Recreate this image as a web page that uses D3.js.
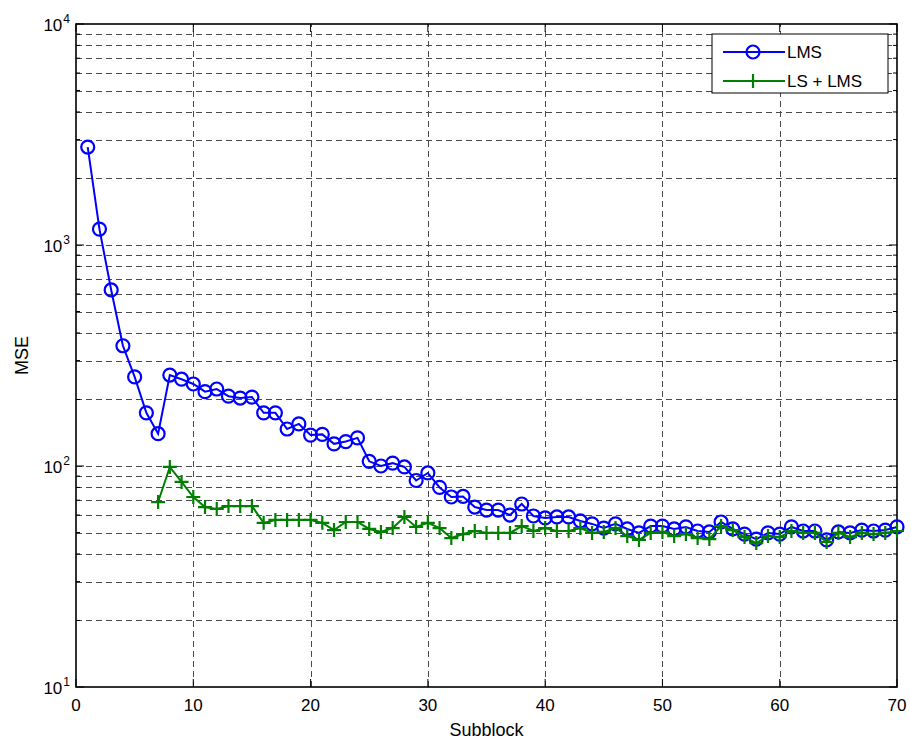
<!DOCTYPE html>
<html>
<head>
<meta charset="utf-8">
<script src="https://cdn.jsdelivr.net/npm/d3@7"></script>
<style>
  body { margin: 0; background: #fff; }
  svg text { font-family: "Liberation Sans", Arial, Helvetica, sans-serif; }
</style>
</head>
<body>
<svg id="svg" width="911" height="742"></svg>
<script>
const width = 911;
const height = 742;

const paddings = {
	left: 76,
	top: 24,
	right: 14,
	bottom: 55
};

// MSE per subblock, LMS only
const lmsValues = [
	2775, 1180, 626, 350, 253, 174, 140, 258, 247, 235,
	217, 223, 207, 203, 205, 174, 174, 147, 155, 138,
	139, 126, 129, 134, 105, 100, 103, 99, 86, 93,
	80, 72.4, 72.8, 65.2, 63.2, 63.2, 60, 67.3, 59.4, 58.2,
	58.8, 58.8, 56.4, 54.7, 52.4, 54.7, 51.9, 49.8, 53.5, 53.5,
	51.9, 53, 50.8, 50.3, 55.8, 51.9, 49.2, 46.7, 49.8, 49.2,
	53, 50.8, 50.8, 46.3, 50.3, 49.8, 51.3, 50.8, 51.3, 53
];

// MSE per subblock, LS + LMS (starts at subblock 7)
const lsLmsStart = 7;
const lsLmsValues = [
	68.7, 99, 84.7, 72.4, 65.2, 63.9, 65.9, 65.9, 65.9, 55.3,
	57, 57, 57, 57, 55.3, 51.3, 55.8, 55.8, 51.9, 50.3,
	52.4, 58.8, 53, 55.3, 52.4, 47.2, 49.2, 50.8, 49.8, 49.8,
	49.8, 53.5, 50.8, 52.4, 50.8, 50.8, 52.4, 49.8, 50.3, 52.4,
	48.2, 46.3, 49.8, 50.3, 48.2, 49.2, 47.2, 46.7, 53.5, 51.3,
	47.7, 44.8, 48.2, 47.7, 50.8, 49.8, 49.8, 45.3, 49.8, 47.7,
	49.8, 49.2, 49.8, 50.8
];

const xTicks = [0, 10, 20, 30, 40, 50, 60, 70];
const yDecades = [1, 2, 3, 4];
const seriesNames = ['LMS', 'LS + LMS'];
const seriesColors = ['#0000ff', '#007f00'];

const lmsPoints = lmsValues.map((v, i) => [i + 1, v]);
const lsLmsPoints = lsLmsValues.map((v, i) => [i + lsLmsStart, v]);

const svg = d3.select('#svg');

const xScale = d3.scaleLinear()
	.domain([0, 70])
	.range([paddings.left, width - paddings.right]);

const yScale = d3.scaleLog()
	.domain([10, 10000])
	.range([height - paddings.bottom, paddings.top]);

const x0 = xScale.range()[0], x1 = xScale.range()[1];
const y0 = yScale.range()[0], y1 = yScale.range()[1];

// minor + major log positions
const yGrid = [];
yDecades.slice(0, -1).forEach(p => {
	for (let k = 1; k < 10; k++) yGrid.push(k * Math.pow(10, p));
});
yGrid.push(10000);

const grid = svg.append('g')
	.attr('stroke', '#4a4a4a')
	.attr('stroke-width', 1)
	.attr('stroke-dasharray', '6,4');

grid.selectAll(null)
	.data(yGrid.filter(v => v > 10 && v < 10000))
	.enter()
	.append('line')
	.attr('x1', x0).attr('x2', x1)
	.attr('y1', d => Math.round(yScale(d)) + 0.5)
	.attr('y2', d => Math.round(yScale(d)) + 0.5);

grid.selectAll(null)
	.data(xTicks.filter(v => v > 0 && v < 70))
	.enter()
	.append('line')
	.attr('y1', y0).attr('y2', y1)
	.attr('x1', d => Math.round(xScale(d)) + 0.5)
	.attr('x2', d => Math.round(xScale(d)) + 0.5);

// axes box
svg.append('rect')
	.attr('x', x0).attr('y', y1)
	.attr('width', x1 - x0).attr('height', y0 - y1)
	.attr('fill', 'none')
	.attr('stroke', '#000')
	.attr('stroke-width', 1.6);

// inward ticks
const ticks = svg.append('g').attr('stroke', '#000').attr('stroke-width', 1);
xTicks.forEach(t => {
	const x = xScale(t);
	ticks.append('line').attr('x1', x).attr('x2', x).attr('y1', y0).attr('y2', y0 - 8);
	ticks.append('line').attr('x1', x).attr('x2', x).attr('y1', y1).attr('y2', y1 + 8);
});
yGrid.forEach(v => {
	const y = yScale(v);
	const len = Math.log10(v) % 1 === 0 ? 8 : 4;
	ticks.append('line').attr('x1', x0).attr('x2', x0 + len).attr('y1', y).attr('y2', y);
	ticks.append('line').attr('x1', x1).attr('x2', x1 - len).attr('y1', y).attr('y2', y);
});

// x tick labels
svg.selectAll(null)
	.data(xTicks)
	.enter()
	.append('text')
	.attr('x', d => xScale(d))
	.attr('y', y0 + 24)
	.attr('text-anchor', 'middle')
	.attr('font-size', 17)
	.text(d => d);

// y tick labels 10^n
const yLab = svg.selectAll(null)
	.data(yDecades)
	.enter()
	.append('text')
	.attr('x', x0 - 6)
	.attr('y', d => yScale(Math.pow(10, d)) + 7)
	.attr('text-anchor', 'end')
	.attr('font-size', 17)
	.text('10');
yLab.append('tspan')
	.attr('dx', 1)
	.attr('dy', -8)
	.attr('font-size', 12)
	.text(d => d);

// axis titles
svg.append('text')
	.attr('x', (x0 + x1) / 2)
	.attr('y', 736)
	.attr('text-anchor', 'middle')
	.attr('font-size', 18)
	.text('Subblock');

svg.append('text')
	.attr('transform', 'translate(28,' + ((y0 + y1) / 2) + ') rotate(-90)')
	.attr('text-anchor', 'middle')
	.attr('font-size', 18)
	.text('MSE');

// series
const line = d3.line()
	.x(d => xScale(d[0]))
	.y(d => yScale(d[1]));

svg.append('path')
	.datum(lmsPoints)
	.attr('d', line)
	.attr('fill', 'none')
	.attr('stroke', seriesColors[0])
	.attr('stroke-width', 2);

svg.selectAll(null)
	.data(lmsPoints)
	.enter()
	.append('circle')
	.attr('cx', d => xScale(d[0]))
	.attr('cy', d => yScale(d[1]))
	.attr('r', 6.5)
	.attr('fill', 'none')
	.attr('stroke', seriesColors[0])
	.attr('stroke-width', 2.2);

svg.append('path')
	.datum(lsLmsPoints)
	.attr('d', line)
	.attr('fill', 'none')
	.attr('stroke', seriesColors[1])
	.attr('stroke-width', 2);

const plus = (sel, s) => sel
	.attr('d', 'M' + (-s) + ',0H' + s + 'M0,' + (-s) + 'V' + s)
	.attr('fill', 'none')
	.attr('stroke', seriesColors[1])
	.attr('stroke-width', 2.2);

svg.selectAll(null)
	.data(lsLmsPoints)
	.enter()
	.append('path')
	.attr('transform', d => 'translate(' + xScale(d[0]) + ',' + yScale(d[1]) + ')')
	.call(plus, 7);

// legend
const legend = svg.append('g').attr('transform', 'translate(712,34)');
legend.append('rect')
	.attr('width', 176).attr('height', 59)
	.attr('fill', '#fff')
	.attr('stroke', '#000')
	.attr('stroke-width', 1);

seriesNames.forEach((name, i) => {
	const g = legend.append('g').attr('transform', 'translate(0,' + (18 + i * 29) + ')');
	g.append('line')
		.attr('x1', 11).attr('x2', 73)
		.attr('stroke', seriesColors[i])
		.attr('stroke-width', 2.2);
	if (i === 0) {
		g.append('circle')
			.attr('cx', 41).attr('r', 6.5)
			.attr('fill', 'none')
			.attr('stroke', seriesColors[i])
			.attr('stroke-width', 2.2);
	} else {
		g.append('path').attr('transform', 'translate(41,0)').call(plus, 7);
	}
	g.append('text')
		.attr('x', 75).attr('y', 6)
		.attr('font-size', 17)
		.text(name);
});
</script>
</body>
</html>
